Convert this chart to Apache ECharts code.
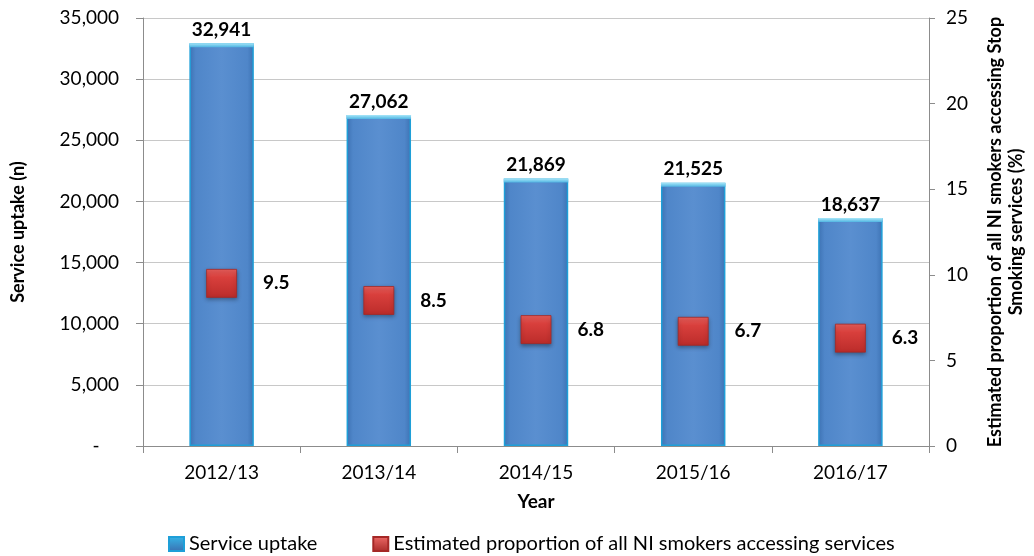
<!DOCTYPE html>
<html>
<head>
<meta charset="utf-8">
<script src="https://cdn.jsdelivr.net/npm/echarts@6/dist/echarts.min.js"></script>
<style>
  html, body { margin: 0; padding: 0; background: #fff; }
  #chart { width: 1034px; height: 556px; }
</style>
</head>
<body>
<div id="chart"></div>
<script>
// Stop Smoking service uptake and share of NI smokers reached, by year
const years = ['2012/13', '2013/14', '2014/15', '2015/16', '2016/17'];
const uptake = [32941, 27062, 21869, 21525, 18637];
const proportion = [9.5, 8.5, 6.8, 6.7, 6.3];

const FONT = 'Lato, "Open Sans", sans-serif';

const chart = echarts.init(document.getElementById('chart'), null, { renderer: 'canvas' });

const blueFill = new echarts.graphic.LinearGradient(0, 0, 1, 0, [
  { offset: 0, color: '#3d72b3' },
  { offset: 0.1, color: '#4f86c9' },
  { offset: 0.5, color: '#5a8fd0' },
  { offset: 0.9, color: '#4f86c9' },
  { offset: 1, color: '#3d72b3' }
]);
const redFill = new echarts.graphic.LinearGradient(0, 0, 0, 1, [
  { offset: 0, color: '#ea5f5c' },
  { offset: 0.3, color: '#d83f3c' },
  { offset: 1, color: '#bb2c2a' }
]);

chart.setOption({
  animation: false,
  textStyle: { fontFamily: FONT },
  grid: {
    left: 143, right: 105, top: 18, bottom: 110,
    containLabel: false,
    outerBoundsMode: 'none'
  },
  legend: {
    top: 529,
    left: 163,
    itemWidth: 15,
    itemHeight: 14,
    itemGap: 55,
    textStyle: { fontSize: 20, color: '#000', fontFamily: FONT },
    data: [
      { name: 'Service uptake', icon: 'rect',
        itemStyle: { color: new echarts.graphic.LinearGradient(0, 0, 0, 1, [
          { offset: 0, color: '#35b6e8' }, { offset: 1, color: '#3b6fb0' }]) } },
      { name: 'Estimated proportion of all NI smokers accessing services', icon: 'rect',
        itemStyle: { color: new echarts.graphic.LinearGradient(0, 0, 0, 1, [
          { offset: 0, color: '#ee6a67' }, { offset: 1, color: '#a82a28' }]) } }
    ]
  },
  xAxis: {
    type: 'category',
    data: years,
    name: 'Year',
    nameLocation: 'middle',
    nameGap: 46,
    nameTextStyle: { fontSize: 19, fontWeight: 'bold', color: '#000' },
    axisLine: { lineStyle: { color: '#8c8c8c' } },
    axisTick: { show: true, length: 7, lineStyle: { color: '#8c8c8c' } },
    axisLabel: { fontSize: 19, color: '#000', margin: 17 }
  },
  yAxis: [
    {
      type: 'value',
      min: 0, max: 35000, interval: 5000,
      name: 'Service uptake (n)',
      nameLocation: 'middle',
      nameGap: 116,
      nameRotate: 90,
      nameTextStyle: { fontSize: 18, fontWeight: 'bold', color: '#000' },
      axisLine: { show: true, lineStyle: { color: '#8c8c8c' } },
      axisTick: { show: true, length: 7, lineStyle: { color: '#8c8c8c' } },
      splitLine: { show: true, lineStyle: { color: '#c8c8c8' } },
      axisLabel: {
        fontSize: 19, color: '#000', margin: 24,
        formatter: v => v === 0 ? '-    ' : v.toLocaleString('en-US')
      }
    },
    {
      type: 'value',
      min: 0, max: 25, interval: 5,
      position: 'right',
      name: 'Estimated proportion of all NI smokers accessing Stop\nSmoking services (%)',
      nameLocation: 'middle',
      nameGap: 56,
      nameRotate: 90,
      nameTextStyle: { fontSize: 18, fontWeight: 'bold', color: '#000', lineHeight: 21 },
      axisLine: { show: true, lineStyle: { color: '#8c8c8c' } },
      axisTick: { show: true, length: 6, lineStyle: { color: '#8c8c8c' } },
      splitLine: { show: false },
      axisLabel: { fontSize: 19, color: '#000', margin: 17 }
    }
  ],
  series: [
    {
      name: 'Service uptake',
      type: 'bar',
      data: uptake,
      barWidth: '41%',
      itemStyle: {
        color: blueFill,
        borderColor: '#1e9fd8',
        borderWidth: 1.5
      },
      label: {
        show: true,
        position: 'top',
        distance: 4,
        fontSize: 19,
        fontWeight: 'bold',
        color: '#000',
        formatter: p => p.value.toLocaleString('en-US')
      },
      z: 2
    },
    {
      // light bevel along the top edge of each column
      name: 'Service uptake cap',
      type: 'pictorialBar',
      data: uptake,
      barWidth: '41%',
      symbol: 'rect',
      symbolSize: ['100%', 4],
      symbolPosition: 'end',
      itemStyle: {
        color: new echarts.graphic.LinearGradient(0, 0, 0, 1, [
          { offset: 0, color: '#a6e6f8' }, { offset: 1, color: '#4fb4e2' }])
      },
      silent: true,
      z: 3
    },
    {
      name: 'Estimated proportion of all NI smokers accessing services',
      type: 'scatter',
      yAxisIndex: 1,
      data: proportion,
      symbol: 'rect',
      symbolSize: [30, 28],
      itemStyle: {
        color: redFill,
        opacity: 1,
        borderColor: '#a52826',
        borderWidth: 0.8,
        shadowColor: 'rgba(0,0,0,0.35)',
        shadowBlur: 4,
        shadowOffsetY: 2
      },
      label: {
        show: true,
        position: 'right',
        distance: 26,
        fontSize: 19,
        fontWeight: 'bold',
        color: '#000',
        opacity: 1,
        formatter: p => p.value.toFixed(1)
      },
      z: 4
    }
  ]
});
</script>
</body>
</html>
